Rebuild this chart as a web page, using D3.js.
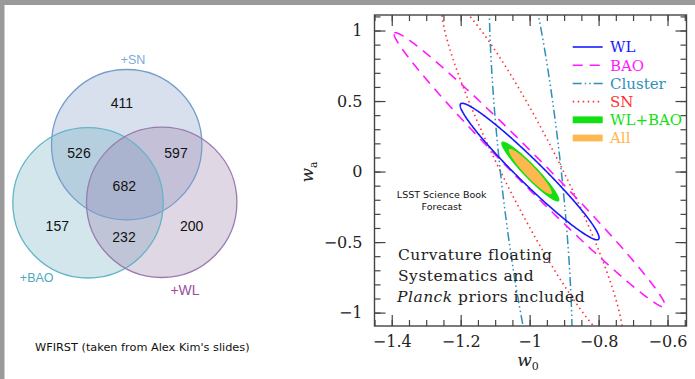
<!DOCTYPE html>
<html>
<head>
<meta charset="utf-8">
<script src="https://cdn.jsdelivr.net/npm/d3@7"></script>
<style>
  html, body { margin: 0; padding: 0; background: #fff; }
  svg { display: block; }
</style>
</head>
<body>
<svg id="fig" width="695" height="379"></svg>
<script>
// ---- Venn diagram: WFIRST combined-probe figures of merit ----
const vennSets = ["+SN", "+BAO", "+WL"];
const vennRegionKeys = ["SN", "SN+BAO", "SN+WL", "SN+BAO+WL", "BAO", "BAO+WL", "WL"];
const vennRegionValues = [411, 526, 597, 682, 157, 232, 200];
const vennCaption = "WFIRST (taken from Alex Kim's slides)";

// ---- w0–wa forecast contours (LSST Science Book) ----
const contourNames = ["WL", "BAO", "Cluster", "SN", "WL+BAO", "All"];
// ellipse = centre + A·cos t + B·sin t, all in (w0, wa) units
const contourCenter = [[-1.0, 0.0], [-1.0, 0.012], [-0.997, 0.01], [-0.993, 0.0], [-0.998, 0.0], [-0.998, 0.0]];
const contourA = [[-0.2, 0.48], [-0.392, 0.97], [-0.082, 1.85], [-0.246, 1.227], [-0.083, 0.21], [-0.0614, 0.1585]];
const contourB = [[0.024, 0.061], [0.029, 0.07], [0.0884, 0], [0.0913, 0], [0.0146, 0.0345], [0.0116, 0.027]];
const xMajorTicks = [-1.4, -1.2, -1, -0.8, -0.6];
const yMajorTicks = [-1, -0.5, 0, 0.5, 1];
const forecastNote = ["LSST Science Book", "Forecast"];

const svg = d3.select("#fig");

// page border strips
svg.append("rect").attr("x", 0).attr("y", 0).attr("width", 695).attr("height", 5).attr("fill", "#9a9a9a");
svg.append("rect").attr("x", 0).attr("y", 0).attr("width", 4.5).attr("height", 379).attr("fill", "#9a9a9a");

// ================= Venn =================
const venn = svg.append("g");
const circleLayout = {
  "+SN":  { cx: 126.7, cy: 144.7, fill: "rgb(115,145,190)", stroke: "#759dcc" },
  "+BAO": { cx: 88,    cy: 202.8, fill: "rgb(95,165,185)",  stroke: "#62b5c6" },
  "+WL":  { cx: 161.7, cy: 202.3, fill: "rgb(145,112,160)", stroke: "#9a7bb0" }
};
const R = 75.2;
venn.selectAll("circle.fill").data(vennSets).join("circle")
  .attr("class", "fill")
  .attr("cx", d => circleLayout[d].cx).attr("cy", d => circleLayout[d].cy).attr("r", R)
  .attr("fill", d => circleLayout[d].fill).attr("fill-opacity", 0.28);
venn.selectAll("circle.edge").data(vennSets).join("circle")
  .attr("class", "edge")
  .attr("cx", d => circleLayout[d].cx).attr("cy", d => circleLayout[d].cy).attr("r", R)
  .attr("fill", "none").attr("stroke", d => circleLayout[d].stroke).attr("stroke-width", 1.3);

const regionAnchor = {
  "SN": [122, 103], "SN+BAO": [79, 153], "SN+WL": [176, 153], "SN+BAO+WL": [124.3, 186],
  "BAO": [57.3, 226], "BAO+WL": [124, 237], "WL": [191.7, 226]
};
venn.selectAll("text.count").data(vennRegionKeys).join("text")
  .attr("class", "count")
  .attr("x", d => regionAnchor[d][0]).attr("y", d => regionAnchor[d][1])
  .attr("dy", "0.36em").attr("text-anchor", "middle")
  .attr("font-family", "Liberation Sans, Arial, sans-serif").attr("font-size", 14)
  .attr("fill", "#111")
  .text((d, i) => vennRegionValues[i]);

const setLabelLayout = {
  "+SN":  { x: 133,  y: 59,  color: "#7eaadc", size: 12.5 },
  "+BAO": { x: 36.7, y: 277, color: "#4fa7bd", size: 12.5 },
  "+WL":  { x: 185,  y: 290, color: "#9b4f9f", size: 14 }
};
venn.selectAll("text.set").data(vennSets).join("text")
  .attr("class", "set")
  .attr("x", d => setLabelLayout[d].x).attr("y", d => setLabelLayout[d].y)
  .attr("dy", "0.36em").attr("text-anchor", "middle")
  .attr("font-family", "Liberation Sans, Arial, sans-serif")
  .attr("font-size", d => setLabelLayout[d].size)
  .attr("fill", d => setLabelLayout[d].color)
  .text(d => d);

venn.append("text").attr("x", 35).attr("y", 351)
  .attr("font-family", "DejaVu Sans, sans-serif").attr("font-size", 11.3).attr("fill", "#111")
  .text(vennCaption);

// ================= Contour plot =================
const L = 374.5, Rt = 686.5, T = 15, B = 326;
const x = d3.scaleLinear().domain([-1.45, -0.545]).range([L, Rt]);
const y = d3.scaleLinear().domain([-1.095, 1.11]).range([B, T]);

const plot = svg.append("g");
plot.append("clipPath").attr("id", "clip")
  .append("rect").attr("x", L).attr("y", T).attr("width", Rt - L).attr("height", B - T);

const styles = {
  "WL":      { stroke: "#1a1aff", width: 1.6, dash: null },
  "BAO":     { stroke: "#ff1aff", width: 1.6, dash: "10,7" },
  "Cluster": { stroke: "#2f8fb8", width: 1.5, dash: "9,3,1.5,3,1.5,3" },
  "SN":      { stroke: "#ff3030", width: 1.6, dash: "1.5,3.5" },
  "WL+BAO":  { fill: "#11e011" },
  "All":     { fill: "#ffb84f" }
};

function ellipsePts(i) {
  const c = contourCenter[i], a = contourA[i], b = contourB[i];
  return d3.range(0, 360, 1).map(k => {
    const t = k * Math.PI / 180;
    return [x(c[0] + a[0] * Math.cos(t) + b[0] * Math.sin(t)),
            y(c[1] + a[1] * Math.cos(t) + b[1] * Math.sin(t))];
  });
}
const line = d3.line().curve(d3.curveLinearClosed);
const cg = plot.append("g").attr("clip-path", "url(#clip)");
const order = ["WL+BAO", "All", "SN", "Cluster", "BAO", "WL"];
order.forEach(name => {
  const i = contourNames.indexOf(name);
  const s = styles[name];
  const p = cg.append("path").attr("d", line(ellipsePts(i)));
  if (s.fill) p.attr("fill", s.fill).attr("stroke", "none");
  else p.attr("fill", "none").attr("stroke", s.stroke).attr("stroke-width", s.width)
        .attr("stroke-dasharray", s.dash);
});

// axes with inward ticks on all four sides
const axisColor = "#444";
const xMinor = d3.range(-1.45, -0.545, 0.05).map(v => +v.toFixed(2));
const yMinor = d3.range(-1.0, 1.11, 0.1).map(v => +v.toFixed(2));
const fmt = d3.format("~g");
function styleAxis(g) {
  g.select(".domain").remove();
  g.selectAll("line").attr("stroke", axisColor).attr("stroke-width", 1.2);
  g.selectAll("text").attr("font-family", "DejaVu Serif, serif").attr("font-size", 16).attr("fill", "#222");
}
plot.append("g").attr("transform", `translate(0,${B})`)
  .call(d3.axisBottom(x).tickValues(xMinor).tickSize(-6).tickFormat("")).call(styleAxis);
plot.append("g").attr("transform", `translate(0,${B})`)
  .call(d3.axisBottom(x).tickValues(xMajorTicks).tickSize(-11).tickPadding(9.5).tickFormat(fmt)).call(styleAxis);
plot.append("g").attr("transform", `translate(0,${T})`)
  .call(d3.axisTop(x).tickValues(xMinor).tickSize(-6).tickFormat("")).call(styleAxis);
plot.append("g").attr("transform", `translate(0,${T})`)
  .call(d3.axisTop(x).tickValues(xMajorTicks).tickSize(-11).tickFormat("")).call(styleAxis);
plot.append("g").attr("transform", `translate(${L},0)`)
  .call(d3.axisLeft(y).tickValues(yMinor).tickSize(-6).tickFormat("")).call(styleAxis);
plot.append("g").attr("transform", `translate(${L},0)`)
  .call(d3.axisLeft(y).tickValues(yMajorTicks).tickSize(-11).tickPadding(12).tickFormat(fmt)).call(styleAxis);
plot.append("g").attr("transform", `translate(${Rt},0)`)
  .call(d3.axisRight(y).tickValues(yMinor).tickSize(-6).tickFormat("")).call(styleAxis);
plot.append("g").attr("transform", `translate(${Rt},0)`)
  .call(d3.axisRight(y).tickValues(yMajorTicks).tickSize(-11).tickFormat("")).call(styleAxis);

plot.append("rect").attr("x", L).attr("y", T).attr("width", Rt - L).attr("height", B - T)
  .attr("fill", "none").attr("stroke", axisColor).attr("stroke-width", 1.4);

// axis titles
const xt = plot.append("text").attr("x", 528).attr("y", 366)
  .attr("text-anchor", "middle").attr("font-family", "DejaVu Serif, serif").attr("fill", "#222");
xt.append("tspan").attr("font-style", "italic").attr("font-size", 17).text("w");
xt.append("tspan").attr("font-size", 11).attr("dy", 4).text("0");
const yt = plot.append("text").attr("transform", "translate(313,172) rotate(-90)")
  .attr("text-anchor", "middle").attr("font-family", "DejaVu Serif, serif").attr("fill", "#222");
yt.append("tspan").attr("font-style", "italic").attr("font-size", 17).text("w");
yt.append("tspan").attr("font-size", 11).attr("dy", 4).text("a");

// legend
const lg = plot.append("g");
contourNames.forEach((name, i) => {
  const yy = 47 + i * 18.2;
  const s = styles[name];
  const color = s.fill || s.stroke;
  if (s.fill) {
    lg.append("rect").attr("x", 572.7).attr("y", yy - 3.4).attr("width", 30).attr("height", 6.8).attr("fill", s.fill);
  } else {
    lg.append("line").attr("x1", 572.7).attr("x2", 602.7).attr("y1", yy).attr("y2", yy)
      .attr("stroke", s.stroke).attr("stroke-width", s.width).attr("stroke-dasharray", s.dash);
  }
  lg.append("text").attr("x", 610).attr("y", yy).attr("dy", "0.36em")
    .attr("font-family", "DejaVu Serif, serif").attr("font-size", 15).attr("fill", color)
    .text(name);
});

// annotations
plot.append("g").selectAll("text").data(forecastNote).join("text")
  .attr("x", 441.7).attr("y", (d, i) => 198.3 + i * 11.7).attr("text-anchor", "middle")
  .attr("font-family", "DejaVu Sans, sans-serif").attr("font-size", 9.5).attr("fill", "#111")
  .text(d => d);

const note = plot.append("g").attr("font-family", "DejaVu Serif, serif").attr("font-size", 15.5)
  .attr("letter-spacing", 0.5).attr("fill", "#222");
note.append("text").attr("x", 398).attr("y", 260).text("Curvature floating");
note.append("text").attr("x", 398).attr("y", 281).text("Systematics and");
const n3 = note.append("text").attr("x", 397).attr("y", 301.5);
n3.append("tspan").attr("font-style", "italic").text("Planck");
n3.append("tspan").text(" priors included");
</script>
</body>
</html>
